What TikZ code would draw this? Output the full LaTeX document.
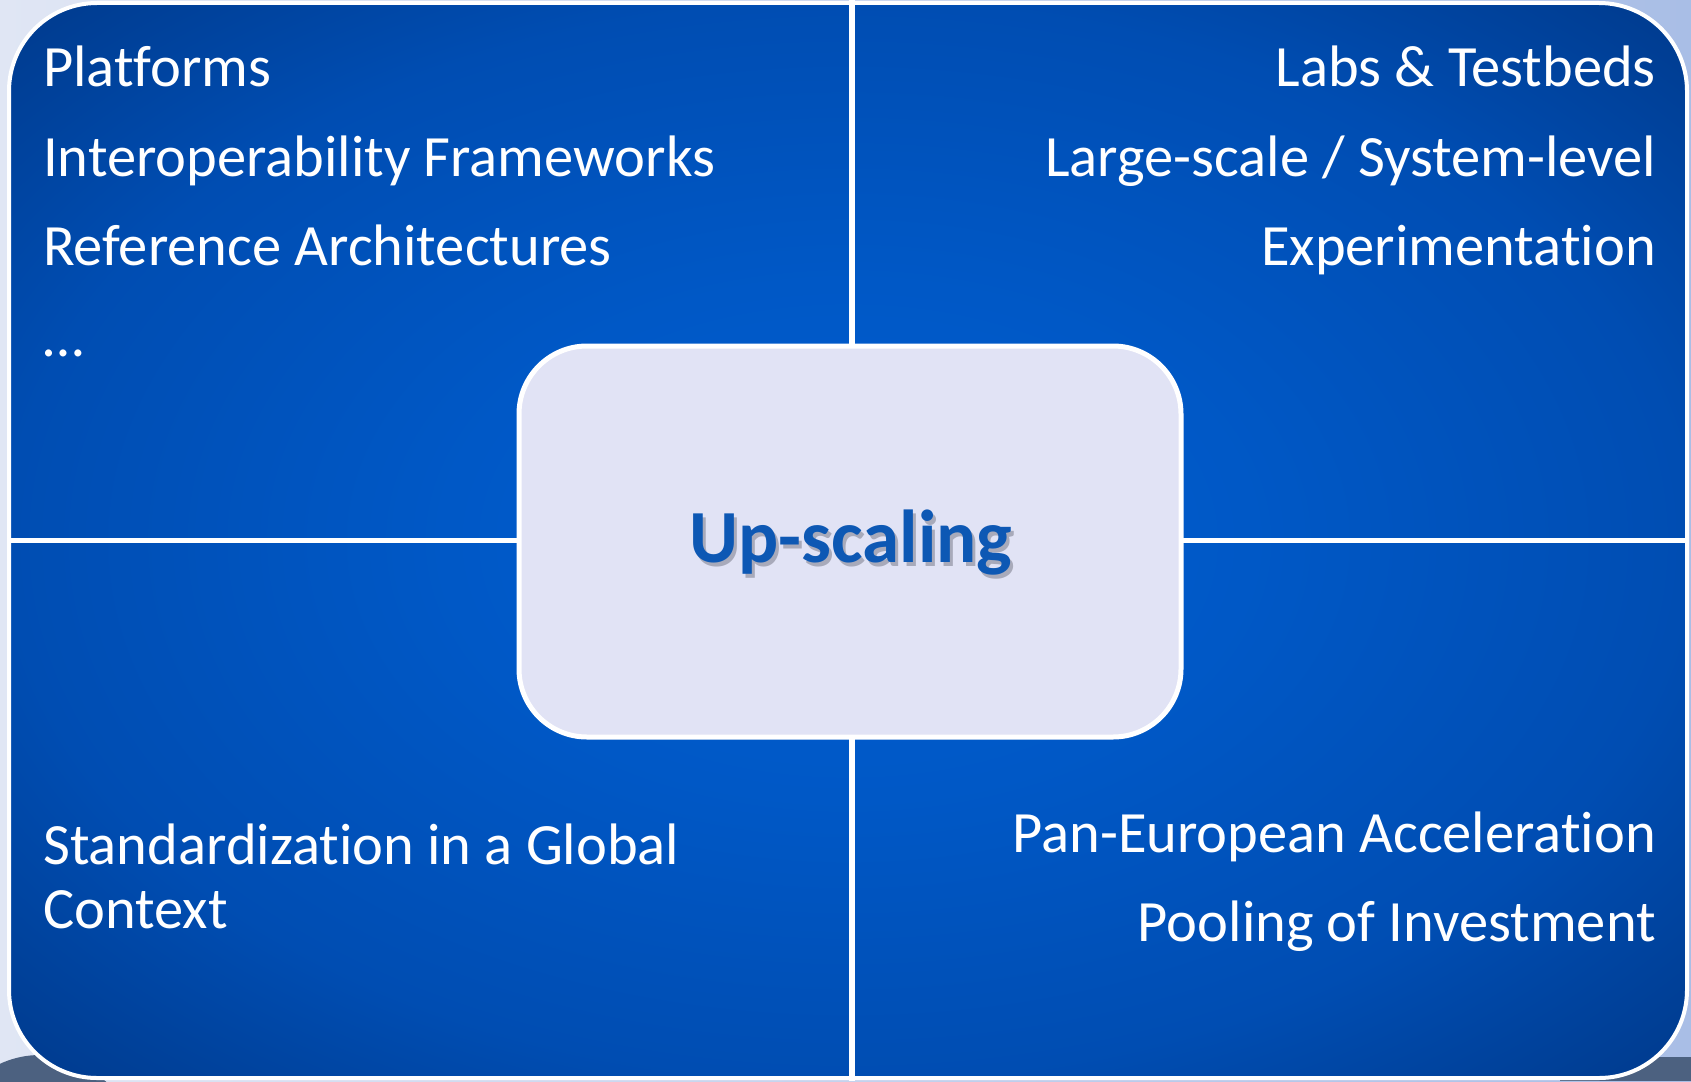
\documentclass[tikz,border=0pt]{standalone}
\usepackage{fontspec}
\setmainfont[Ligatures=NoCommon]{Carlito}
\definecolor{bgL}{HTML}{E0E6F4}
\definecolor{bgR}{HTML}{A9BEE6}
\definecolor{darkbg}{HTML}{4C6180}
\definecolor{qin}{HTML}{005ED2}
\definecolor{qa}{HTML}{0058C6}
\definecolor{qmid}{HTML}{004DB2}
\definecolor{qout}{HTML}{00398A}
\definecolor{boxfill}{HTML}{E1E3F5}
\definecolor{upblue}{HTML}{0D58B4}
\definecolor{upshade}{HTML}{A8AABA}
\pgfdeclareradialshading{quadshade}{\pgfpoint{0bp}{0bp}}{color(0bp)=(qin); color(12bp)=(qa); color(25bp)=(qmid); color(36bp)=(qout); color(50bp)=(qout)}
\tikzset{
  qtext/.style={text=white, font=\fontsize{58.5}{64}\selectfont, inner sep=0pt},
  uptext/.style={font=\fontsize{75}{82}\selectfont\bfseries, inner sep=0pt},
}
\begin{document}
\begin{tikzpicture}[x=1pt,y=-1pt]
\useasboundingbox (0,0) rectangle (1691,1081);
% background
\shade[left color=bgL, right color=bgR] (0,0) rectangle (1691,1081);
\fill[darkbg] (40,1150) circle (95);
\fill[darkbg] (1560,1057) rectangle (1691,1081);
% frame with radial shading
\shade[shading=quadshade, rounded corners=88pt] (9,3) rectangle (1687,1078);
\draw[white, line width=4pt, rounded corners=88pt] (9,3) rectangle (1687,1078);
% dividers
\coordinate (vt) at (852,0);
\coordinate (vb) at (852,1081);
\coordinate (hl) at (9,540);
\coordinate (hr) at (1687,540);
\draw[white, line width=6pt] (vt) -- (vb);
\draw[white, line width=5pt] (hl) -- (hr);
% center box
\node[draw=white, line width=5pt, fill=boxfill, rounded corners=68pt,
      minimum width=662pt, minimum height=391pt, inner sep=0pt] (box) at (850,541.5) {};
\node[uptext, text=upblue, anchor=base] (up) at (851,562)
  {\makebox[0pt][l]{\hspace{3pt}\raisebox{-4pt}{\color{upshade}Up-scaling}}Up-scaling};
% top-left
\node[qtext, anchor=base west] (tl1) at (43,86) {Platforms};
\node[qtext, anchor=base west] (tl2) at (43,176) {Interoperability Frameworks};
\node[qtext, anchor=base west] (tl3) at (43,265) {Reference Architectures};
\node[qtext, anchor=base west] (tl4) at (43,356) {…};
% top-right
\node[qtext, anchor=base east] (tr1) at (1656,86) {Labs \& Testbeds};
\node[qtext, anchor=base east] (tr2) at (1656,176) {Large-scale / System-level};
\node[qtext, anchor=base east] (tr3) at (1656,265) {Experimentation};
% bottom-left
\node[qtext, anchor=base west] (bl1) at (43,864) {Standardization in a Global};
\node[qtext, anchor=base west] (bl2) at (43,928) {Context};
% bottom-right
\node[qtext, anchor=base east] (br1) at (1656,852) {Pan-European Acceleration};
\node[qtext, anchor=base east] (br2) at (1656,941) {Pooling of Investment};
\end{tikzpicture}
\end{document}
